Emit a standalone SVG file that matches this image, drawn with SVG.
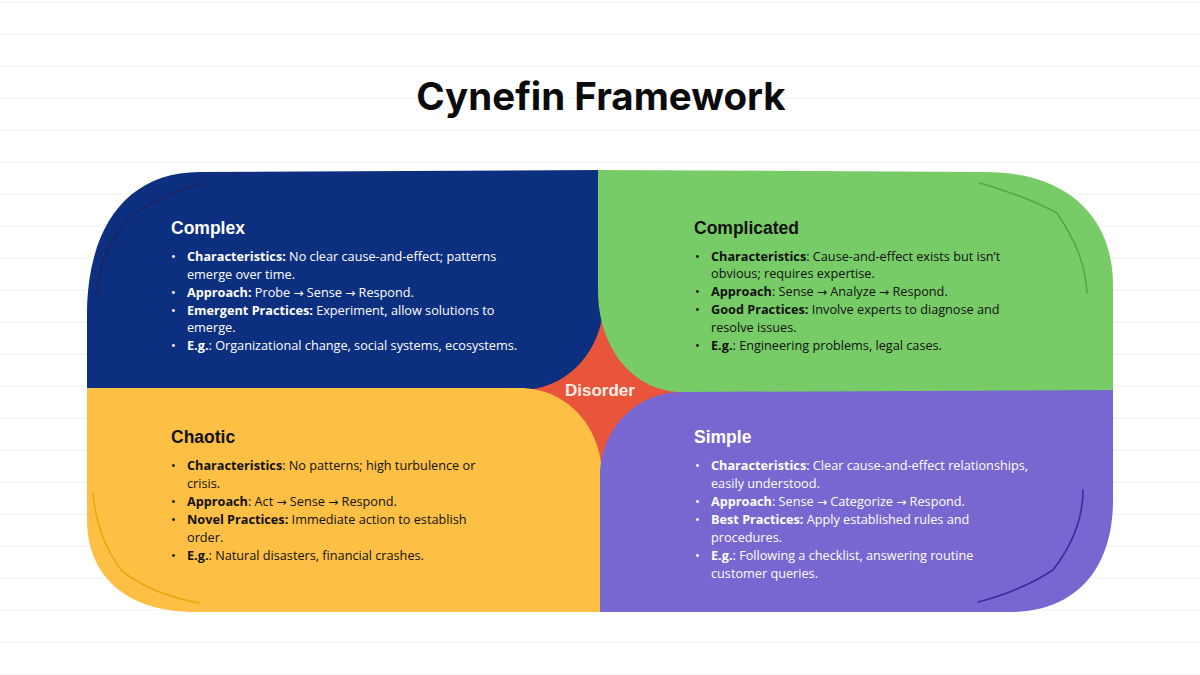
<svg xmlns="http://www.w3.org/2000/svg" width="1200" height="675" viewBox="0 0 1200 675">
<defs>
<pattern id="paper" x="0" y="3" width="1200" height="32" patternUnits="userSpaceOnUse">
<rect width="1200" height="32" fill="#ffffff"/>
<line x1="0" y1="31" x2="1200" y2="31" stroke="#f8f8f8" stroke-width="2"/>
</pattern>
</defs>
<style>
.title{font-family:Inter,"Liberation Sans",Arial,sans-serif;font-weight:bold;font-size:38.5px;fill:#0b0b0b}
.head{font-family:"Liberation Sans",Arial,sans-serif;font-weight:bold;font-size:17.5px}
.body{font-family:"Open Sans","Liberation Sans",sans-serif;font-size:12.7px}
.b{font-weight:bold}
.ar{font-family:"DejaVu Sans","Liberation Sans",sans-serif;font-size:12px}
.light{fill:#ffffff}
.dark{fill:#111111}
.deco{fill:none;stroke-width:1.6;stroke-linecap:round}
</style>
<rect width="1200" height="675" fill="url(#paper)"/>
<text class="title" x="601" y="110" text-anchor="middle">Cynefin Framework</text>

<g id="disorder">
<rect x="510" y="280" width="180" height="205" fill="#e8553a"/>
<text x="600" y="396" text-anchor="middle" font-family="Liberation Sans, Arial, sans-serif" font-weight="bold" font-size="17" fill="#fdeee8">Disorder</text>
</g>

<g id="complex">
<path d="M87 390 L87 315 C87 230 125 172 200 172 L604 170 L604 298 C604 350 568 390 520 390 Z" fill="#0d2f80"/>
<path class="deco" d="M203 183 C160 195 130 212 118 232 C104 252 99 270 97 293" stroke="#1a2560"/>
<text class="head light" x="171" y="234">Complex</text>
<g class="body light">
<text x="171" y="261">•</text>
<text x="187" y="261"><tspan class="b">Characteristics:</tspan> No clear cause-and-effect; patterns</text>
<text x="187" y="279">emerge over time.</text>
<text x="171" y="297">•</text>
<text x="187" y="297"><tspan class="b">Approach:</tspan> Probe <tspan class="ar">→</tspan> Sense <tspan class="ar">→</tspan> Respond.</text>
<text x="171" y="315">•</text>
<text x="187" y="315"><tspan class="b">Emergent Practices:</tspan> Experiment, allow solutions to</text>
<text x="187" y="332">emerge.</text>
<text x="171" y="350">•</text>
<text x="187" y="350"><tspan class="b">E.g.</tspan>: Organizational change, social systems, ecosystems.</text>
</g>
</g>

<g id="complicated">
<path d="M598 170 L985 172 C1065 172 1113 215 1113 285 L1113 392 L682 392 C635 392 598 350 598 290 Z" fill="#78cc68"/>
<path class="deco" d="M980 183 C1010 192 1035 201 1057 213 C1075 240 1085 262 1087 293" stroke="#52a84a"/>
<text class="head dark" x="694" y="234">Complicated</text>
<g class="body dark">
<text x="695" y="261">•</text>
<text x="711" y="261"><tspan class="b">Characteristics</tspan>: Cause-and-effect exists but isn’t</text>
<text x="711" y="278">obvious; requires expertise.</text>
<text x="695" y="296">•</text>
<text x="711" y="296"><tspan class="b">Approach</tspan>: Sense <tspan class="ar">→</tspan> Analyze <tspan class="ar">→</tspan> Respond.</text>
<text x="695" y="314">•</text>
<text x="711" y="314"><tspan class="b">Good Practices:</tspan> Involve experts to diagnose and</text>
<text x="711" y="332">resolve issues.</text>
<text x="695" y="350">•</text>
<text x="711" y="350"><tspan class="b">E.g.</tspan>: Engineering problems, legal cases.</text>
</g>
</g>

<g id="chaotic">
<path d="M87 388 L520 388 C565 388 602 425 602 477 L602 612 L195 612 C125 612 87 575 87 520 Z" fill="#fdc045"/>
<path class="deco" d="M93 493 C96 525 105 550 123 572 C145 588 170 598 200 603" stroke="#e8a812"/>
<text class="head dark" x="171" y="443">Chaotic</text>
<g class="body dark">
<text x="171" y="470">•</text>
<text x="187" y="470"><tspan class="b">Characteristics</tspan>: No patterns; high turbulence or</text>
<text x="187" y="488">crisis.</text>
<text x="171" y="506">•</text>
<text x="187" y="506"><tspan class="b">Approach</tspan>: Act <tspan class="ar">→</tspan> Sense <tspan class="ar">→</tspan> Respond.</text>
<text x="171" y="524">•</text>
<text x="187" y="524"><tspan class="b">Novel Practices:</tspan> Immediate action to establish</text>
<text x="187" y="542">order.</text>
<text x="171" y="560">•</text>
<text x="187" y="560"><tspan class="b">E.g.</tspan>: Natural disasters, financial crashes.</text>
</g>
</g>

<g id="simple">
<path d="M600 612 L600 477 C600 430 635 392 682 392 L1113 390 L1113 500 C1113 570 1075 612 1010 612 Z" fill="#7867d0"/>
<path class="deco" d="M1083 490 C1083 520 1070 548 1053 570 C1030 585 1005 595 978 602" stroke="#3a2aa6"/>
<text class="head light" x="694" y="443">Simple</text>
<g class="body light">
<text x="695" y="470">•</text>
<text x="711" y="470"><tspan class="b">Characteristics</tspan>: Clear cause-and-effect relationships,</text>
<text x="711" y="488">easily understood.</text>
<text x="695" y="506">•</text>
<text x="711" y="506"><tspan class="b">Approach</tspan>: Sense <tspan class="ar">→</tspan> Categorize <tspan class="ar">→</tspan> Respond.</text>
<text x="695" y="524">•</text>
<text x="711" y="524"><tspan class="b">Best Practices:</tspan> Apply established rules and</text>
<text x="711" y="542">procedures.</text>
<text x="695" y="560">•</text>
<text x="711" y="560"><tspan class="b">E.g.</tspan>: Following a checklist, answering routine</text>
<text x="711" y="578">customer queries.</text>
</g>
</g>
</svg>
